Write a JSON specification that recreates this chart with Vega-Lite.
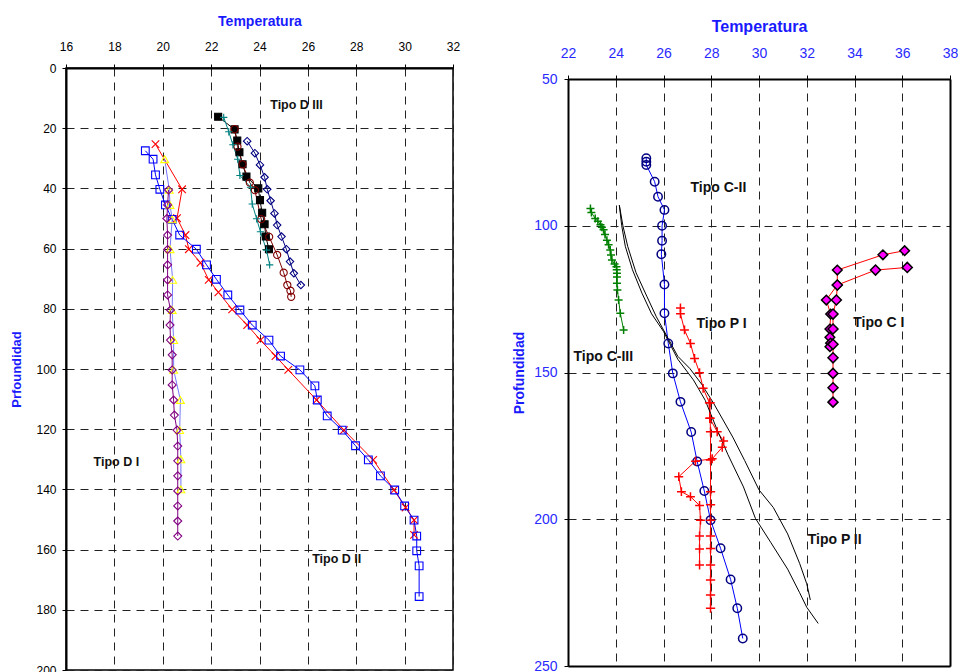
{
  "$schema": "https://vega.github.io/schema/vega-lite/v6.json",
  "background": "white",
  "padding": {"left": 10, "top": 13, "right": 0, "bottom": 0},
  "spacing": 51,
  "resolve": {"scale": {"color": "independent", "shape": "independent", "stroke": "independent", "fill": "independent", "size": "independent"}},
  "config": {
    "font": "Liberation Sans",
    "view": {"stroke": "#000", "strokeWidth": 1.5},
    "axis": {"domainColor": "#000", "domainWidth": 2, "tickColor": "#000", "tickSize": 4, "gridColor": "#222", "gridDash": [8, 6], "gridWidth": 1, "labelFont": "Liberation Sans", "titleFont": "Liberation Sans", "titleFontWeight": "bold", "labelFlush": false, "labelOverlap": false}
  },
  "hconcat": [
    {
      "width": 387,
      "height": 602,
      "data": {"values": [
        {"s":"DIII_sq","T":22.29,"D":16.2},{"s":"DIII_sq","T":22.97,"D":20.4},{"s":"DIII_sq","T":23.08,"D":24.1},{"s":"DIII_sq","T":23.17,"D":28.0},{"s":"DIII_sq","T":23.30,"D":32.0},{"s":"DIII_sq","T":23.46,"D":36.1},{"s":"DIII_sq","T":23.95,"D":40.0},{"s":"DIII_sq","T":24.02,"D":43.9},{"s":"DIII_sq","T":24.11,"D":48.1},{"s":"DIII_sq","T":24.21,"D":51.9},{"s":"DIII_sq","T":24.26,"D":56.0},{"s":"DIII_sq","T":24.39,"D":60.2},
        {"s":"DIII_circ","T":22.97,"D":20.3},{"s":"DIII_circ","T":23.09,"D":26.1},{"s":"DIII_circ","T":23.30,"D":32.0},{"s":"DIII_circ","T":23.60,"D":38.1},{"s":"DIII_circ","T":23.81,"D":40.6},{"s":"DIII_circ","T":24.07,"D":50.2},{"s":"DIII_circ","T":24.40,"D":56.1},{"s":"DIII_circ","T":24.73,"D":62.1},{"s":"DIII_circ","T":25.00,"D":68.0},{"s":"DIII_circ","T":25.15,"D":72.1},{"s":"DIII_circ","T":25.28,"D":74.0},{"s":"DIII_circ","T":25.31,"D":76.0},
        {"s":"DIII_plus","T":22.52,"D":16.4},{"s":"DIII_plus","T":22.73,"D":21.2},{"s":"DIII_plus","T":22.90,"D":25.5},{"s":"DIII_plus","T":23.10,"D":30.3},{"s":"DIII_plus","T":23.19,"D":35.7},{"s":"DIII_plus","T":23.63,"D":39.6},{"s":"DIII_plus","T":23.70,"D":45.2},{"s":"DIII_plus","T":23.88,"D":50.1},{"s":"DIII_plus","T":24.04,"D":54.4},{"s":"DIII_plus","T":24.29,"D":60.5},{"s":"DIII_plus","T":24.42,"D":65.4},
        {"s":"DIII_diam","T":23.49,"D":24.3},{"s":"DIII_diam","T":23.81,"D":28.3},{"s":"DIII_diam","T":24.02,"D":32.2},{"s":"DIII_diam","T":24.21,"D":36.3},{"s":"DIII_diam","T":24.32,"D":40.3},{"s":"DIII_diam","T":24.46,"D":44.1},{"s":"DIII_diam","T":24.62,"D":48.3},{"s":"DIII_diam","T":24.73,"D":52.2},{"s":"DIII_diam","T":24.91,"D":56.0},{"s":"DIII_diam","T":25.11,"D":60.2},{"s":"DIII_diam","T":25.26,"D":64.3},{"s":"DIII_diam","T":25.42,"D":68.2},{"s":"DIII_diam","T":25.71,"D":72.1},
        {"s":"D_x","T":19.70,"D":25.3},{"s":"D_x","T":20.80,"D":40.3},{"s":"D_x","T":20.59,"D":49.9},{"s":"D_x","T":20.94,"D":55.5},{"s":"D_x","T":21.08,"D":60.2},{"s":"D_x","T":21.56,"D":64.7},{"s":"D_x","T":21.90,"D":70.4},{"s":"D_x","T":22.30,"D":74.5},{"s":"D_x","T":22.87,"D":80.2},{"s":"D_x","T":23.49,"D":85.4},{"s":"D_x","T":24.04,"D":90.4},{"s":"D_x","T":24.66,"D":95.7},{"s":"D_x","T":25.19,"D":100.3},{"s":"D_x","T":26.36,"D":110.3},{"s":"D_x","T":27.49,"D":120.3},{"s":"D_x","T":28.70,"D":130.2},{"s":"D_x","T":29.56,"D":140.2},{"s":"D_x","T":30.04,"D":146.0},{"s":"D_x","T":30.39,"D":150.2},{"s":"D_x","T":30.39,"D":155.1},
        {"s":"D_sq","T":19.28,"D":27.5},{"s":"D_sq","T":19.60,"D":30.3},{"s":"D_sq","T":19.70,"D":35.5},{"s":"D_sq","T":19.88,"D":40.3},{"s":"D_sq","T":20.11,"D":45.5},{"s":"D_sq","T":20.39,"D":50.3},{"s":"D_sq","T":20.70,"D":55.5},{"s":"D_sq","T":21.39,"D":60.2},{"s":"D_sq","T":21.81,"D":65.4},{"s":"D_sq","T":22.22,"D":70.2},{"s":"D_sq","T":22.69,"D":75.4},{"s":"D_sq","T":23.19,"D":80.4},{"s":"D_sq","T":23.70,"D":85.4},{"s":"D_sq","T":24.39,"D":90.4},{"s":"D_sq","T":24.87,"D":95.7},{"s":"D_sq","T":25.67,"D":100.3},{"s":"D_sq","T":26.29,"D":105.6},{"s":"D_sq","T":26.39,"D":110.3},{"s":"D_sq","T":26.80,"D":115.6},{"s":"D_sq","T":27.42,"D":120.3},{"s":"D_sq","T":27.97,"D":125.5},{"s":"D_sq","T":28.50,"D":130.2},{"s":"D_sq","T":29.00,"D":135.5},{"s":"D_sq","T":29.59,"D":140.2},{"s":"D_sq","T":30.00,"D":145.5},{"s":"D_sq","T":30.39,"D":150.2},{"s":"D_sq","T":30.50,"D":155.5},{"s":"D_sq","T":30.50,"D":160.4},{"s":"D_sq","T":30.60,"D":165.4},{"s":"D_sq","T":30.60,"D":175.6},
        {"s":"D_tri","T":20.08,"D":30.3},{"s":"D_tri","T":20.27,"D":40.5},{"s":"D_tri","T":20.30,"D":45.5},{"s":"D_tri","T":20.39,"D":50.3},{"s":"D_tri","T":20.30,"D":60.2},{"s":"D_tri","T":20.41,"D":70.4},{"s":"D_tri","T":20.39,"D":80.4},{"s":"D_tri","T":20.45,"D":90.4},{"s":"D_tri","T":20.45,"D":100.3},{"s":"D_tri","T":20.73,"D":110.3},{"s":"D_tri","T":20.70,"D":120.3},{"s":"D_tri","T":20.75,"D":130.0},{"s":"D_tri","T":20.75,"D":140.0},
        {"s":"D_diam","T":20.24,"D":40.5},{"s":"D_diam","T":20.20,"D":45.5},{"s":"D_diam","T":20.17,"D":50.0},{"s":"D_diam","T":20.20,"D":55.5},{"s":"D_diam","T":20.20,"D":60.3},{"s":"D_diam","T":20.20,"D":65.4},{"s":"D_diam","T":20.20,"D":70.4},{"s":"D_diam","T":20.20,"D":75.4},{"s":"D_diam","T":20.32,"D":80.4},{"s":"D_diam","T":20.30,"D":85.4},{"s":"D_diam","T":20.32,"D":90.4},{"s":"D_diam","T":20.39,"D":95.3},{"s":"D_diam","T":20.39,"D":100.3},{"s":"D_diam","T":20.39,"D":105.3},{"s":"D_diam","T":20.45,"D":110.3},{"s":"D_diam","T":20.48,"D":115.3},{"s":"D_diam","T":20.59,"D":120.3},{"s":"D_diam","T":20.62,"D":125.6},{"s":"D_diam","T":20.62,"D":130.5},{"s":"D_diam","T":20.62,"D":135.5},{"s":"D_diam","T":20.62,"D":140.5},{"s":"D_diam","T":20.62,"D":145.5},{"s":"D_diam","T":20.62,"D":150.5},{"s":"D_diam","T":20.62,"D":155.5}
      ]},
      "layer": [
        {
          "mark": {"type": "line", "strokeWidth": 1},
          "encoding": {
            "x": {"field": "T", "type": "quantitative", "scale": {"domain": [16, 32], "nice": false, "zero": false},
              "axis": {"orient": "top", "title": "Temperatura", "titleColor": "#1a1aff", "titleFontSize": 14, "titlePadding": 12, "labelFontSize": 12, "labelColor": "#000", "labelPadding": 11, "values": [16, 18, 20, 22, 24, 26, 28, 30, 32], "grid": true}},
            "y": {"field": "D", "type": "quantitative", "scale": {"domain": [0, 200], "reverse": true, "nice": false, "zero": false},
              "axis": {"title": "Prfoundidad", "titleColor": "#1a1aff", "titleFontSize": 13, "titlePadding": 12, "labelFontSize": 12, "labelColor": "#000", "labelPadding": 6, "values": [0, 20, 40, 60, 80, 100, 120, 140, 160, 180, 200], "grid": true}},
            "color": {"field": "s", "type": "nominal", "legend": null,
              "scale": {"domain": ["DIII_sq","DIII_circ","DIII_plus","DIII_diam","D_x","D_sq","D_tri","D_diam"], "range": ["#000000","#800000","#008080","#000080","#ff0000","#0000ff","#7777ff","#800080"]}},
            "order": {"field": "D", "type": "quantitative"}
          }
        },
        {
          "mark": {"type": "point", "filled": true, "opacity": 1, "strokeWidth": 1.1},
          "encoding": {
            "x": {"field": "T", "type": "quantitative"},
            "y": {"field": "D", "type": "quantitative"},
            "shape": {"field": "s", "type": "nominal", "legend": null,
              "scale": {"domain": ["DIII_sq","DIII_circ","DIII_plus","DIII_diam","D_x","D_sq","D_tri","D_diam"], "range": ["square","circle","M-1,0L1,0M0,-1L0,1","diamond","M-1,-1L1,1M-1,1L1,-1","square","triangle-up","diamond"]}},
            "stroke": {"field": "s", "type": "nominal", "legend": null,
              "scale": {"domain": ["DIII_sq","DIII_circ","DIII_plus","DIII_diam","D_x","D_sq","D_tri","D_diam"], "range": ["#000000","#800000","#008080","#000080","#ff0000","#0000ff","#ffff00","#800080"]}},
            "fill": {"field": "s", "type": "nominal", "legend": null,
              "scale": {"domain": ["DIII_sq","DIII_circ","DIII_plus","DIII_diam","D_x","D_sq","D_tri","D_diam"], "range": ["#000000","transparent","transparent","transparent","transparent","transparent","transparent","transparent"]}},
            "size": {"field": "s", "type": "nominal", "legend": null,
              "scale": {"domain": ["DIII_sq","DIII_circ","DIII_plus","DIII_diam","D_x","D_sq","D_tri","D_diam"], "range": [49, 64, 36, 45, 49, 81, 64, 45]}}
          }
        },
        {
          "data": {"values": [
            {"label": "Tipo D III", "T": 25.53, "D": 12.3},
            {"label": "Tipo D I", "T": 18.08, "D": 131},
            {"label": "Tipo D II", "T": 27.19, "D": 163.1}
          ]},
          "mark": {"type": "text", "fontWeight": "bold", "fontSize": 12.5, "color": "#111"},
          "encoding": {
            "x": {"field": "T", "type": "quantitative"},
            "y": {"field": "D", "type": "quantitative"},
            "text": {"field": "label"}
          }
        }
      ]
    },
    {
      "width": 382,
      "height": 598,
      "view": {"stroke": null},
      "resolve": {"axis": {"x": "independent", "y": "independent"}},
      "data": {"values": [
        {"s":"C3","T":22.94,"D":94.1},{"s":"C3","T":22.98,"D":95.5},{"s":"C3","T":23.14,"D":97.5},{"s":"C3","T":23.25,"D":98.5},{"s":"C3","T":23.36,"D":99.7},{"s":"C3","T":23.42,"D":100.5},{"s":"C3","T":23.49,"D":101.4},{"s":"C3","T":23.55,"D":103.0},{"s":"C3","T":23.63,"D":104.9},{"s":"C3","T":23.70,"D":106.5},{"s":"C3","T":23.77,"D":108.3},{"s":"C3","T":23.80,"D":110.0},{"s":"C3","T":23.84,"D":111.7},{"s":"C3","T":23.95,"D":113.0},{"s":"C3","T":24.03,"D":114.0},{"s":"C3","T":24.04,"D":115.0},{"s":"C3","T":24.05,"D":116.2},{"s":"C3","T":24.05,"D":117.5},{"s":"C3","T":24.05,"D":119.6},{"s":"C3","T":24.07,"D":121.9},{"s":"C3","T":24.12,"D":125.3},{"s":"C3","T":24.19,"D":129.8},{"s":"C3","T":24.33,"D":135.5},
        {"s":"C2","T":25.28,"D":77.0},{"s":"C2","T":25.28,"D":78.2},{"s":"C2","T":25.28,"D":79.3},{"s":"C2","T":25.63,"D":85.0},{"s":"C2","T":25.77,"D":90.1},{"s":"C2","T":26.04,"D":94.6},{"s":"C2","T":25.94,"D":100.0},{"s":"C2","T":25.94,"D":105.1},{"s":"C2","T":25.91,"D":109.7},{"s":"C2","T":26.04,"D":120.0},{"s":"C2","T":26.04,"D":129.8},{"s":"C2","T":26.20,"D":140.1},{"s":"C2","T":26.39,"D":150.3},{"s":"C2","T":26.71,"D":160.0},{"s":"C2","T":27.16,"D":170.3},{"s":"C2","T":27.41,"D":180.3},{"s":"C2","T":27.71,"D":190.4},{"s":"C2","T":27.97,"D":200.3},{"s":"C2","T":28.39,"D":209.9},{"s":"C2","T":28.81,"D":220.5},{"s":"C2","T":29.09,"D":230.3},{"s":"C2","T":29.32,"D":240.6},
        {"s":"P1a","T":26.71,"D":128.0},{"s":"P1a","T":26.71,"D":130.0},{"s":"P1a","T":26.88,"D":135.5},{"s":"P1a","T":27.13,"D":140.1},{"s":"P1a","T":27.30,"D":145.2},{"s":"P1a","T":27.51,"D":150.1},{"s":"P1a","T":27.66,"D":155.4},{"s":"P1a","T":27.92,"D":160.3},{"s":"P1a","T":27.94,"D":165.6},{"s":"P1a","T":28.25,"D":170.2},{"s":"P1a","T":28.52,"D":173.3},{"s":"P1a","T":28.46,"D":175.5},{"s":"P1a","T":28.04,"D":179.4},{"s":"P1a","T":27.34,"D":180.2},{"s":"P1a","T":26.64,"D":185.5},{"s":"P1a","T":26.75,"D":190.6},{"s":"P1a","T":27.13,"D":192.3},{"s":"P1a","T":27.51,"D":195.3},{"s":"P1a","T":27.55,"D":200.3},{"s":"P1a","T":27.51,"D":205.7},{"s":"P1a","T":27.51,"D":210.1},{"s":"P1a","T":27.51,"D":215.6},
        {"s":"P1b","T":27.95,"D":160.3},{"s":"P1b","T":27.95,"D":165.6},{"s":"P1b","T":27.97,"D":170.2},{"s":"P1b","T":27.97,"D":179.8},{"s":"P1b","T":27.97,"D":190.6},{"s":"P1b","T":27.97,"D":195.1},{"s":"P1b","T":27.97,"D":200.3},{"s":"P1b","T":27.97,"D":205.7},{"s":"P1b","T":27.97,"D":210.0},{"s":"P1b","T":27.97,"D":215.6},{"s":"P1b","T":27.97,"D":220.7},{"s":"P1b","T":27.97,"D":225.8},{"s":"P1b","T":27.97,"D":230.3},
        {"s":"P2a","T":24.15,"D":93.0},{"s":"P2a","T":24.30,"D":100.0},{"s":"P2a","T":24.50,"D":107.0},{"s":"P2a","T":24.85,"D":116.0},{"s":"P2a","T":25.30,"D":124.0},{"s":"P2a","T":25.70,"D":131.0},{"s":"P2a","T":26.30,"D":140.0},{"s":"P2a","T":26.60,"D":144.5},{"s":"P2a","T":27.10,"D":148.6},{"s":"P2a","T":27.60,"D":154.0},{"s":"P2a","T":28.10,"D":160.5},{"s":"P2a","T":28.90,"D":172.0},{"s":"P2a","T":29.40,"D":180.0},{"s":"P2a","T":30.00,"D":190.0},{"s":"P2a","T":30.60,"D":196.0},{"s":"P2a","T":31.20,"D":205.0},{"s":"P2a","T":31.70,"D":215.0},{"s":"P2a","T":32.00,"D":222.0},{"s":"P2a","T":32.15,"D":227.5},
        {"s":"P2b","T":24.15,"D":93.0},{"s":"P2b","T":24.25,"D":100.0},{"s":"P2b","T":24.40,"D":107.0},{"s":"P2b","T":24.70,"D":115.0},{"s":"P2b","T":25.10,"D":123.0},{"s":"P2b","T":25.50,"D":130.0},{"s":"P2b","T":26.00,"D":136.0},{"s":"P2b","T":26.60,"D":145.5},{"s":"P2b","T":27.25,"D":152.5},{"s":"P2b","T":27.75,"D":159.5},{"s":"P2b","T":28.25,"D":169.6},{"s":"P2b","T":28.70,"D":178.0},{"s":"P2b","T":29.35,"D":189.0},{"s":"P2b","T":29.85,"D":199.7},{"s":"P2b","T":30.50,"D":208.0},{"s":"P2b","T":31.20,"D":217.0},{"s":"P2b","T":31.70,"D":225.0},{"s":"P2b","T":32.00,"D":230.0},{"s":"P2b","T":32.48,"D":235.5},
        {"s":"C1a","T":36.10,"D":108.5},{"s":"C1a","T":35.19,"D":109.9},{"s":"C1a","T":33.28,"D":115.1},{"s":"C1a","T":33.28,"D":120.2},{"s":"C1a","T":32.82,"D":125.3},{"s":"C1a","T":33.00,"D":130.1},{"s":"C1a","T":32.97,"D":135.2},{"s":"C1a","T":32.97,"D":138.0},{"s":"C1a","T":33.00,"D":140.0},{"s":"C1a","T":32.97,"D":141.2},
        {"s":"C1b","T":36.21,"D":114.2},{"s":"C1b","T":34.88,"D":115.1},{"s":"C1b","T":33.28,"D":120.2},{"s":"C1b","T":33.24,"D":125.3},{"s":"C1b","T":33.10,"D":130.1},{"s":"C1b","T":33.10,"D":135.2},{"s":"C1b","T":33.10,"D":140.4},{"s":"C1b","T":33.10,"D":145.0},{"s":"C1b","T":33.10,"D":150.3},{"s":"C1b","T":33.10,"D":155.2},{"s":"C1b","T":33.10,"D":160.1}
      ]},
      "layer": [
        {
          "mark": {"type": "line", "strokeWidth": 1},
          "encoding": {
            "x": {"field": "T", "type": "quantitative", "scale": {"domain": [22, 38], "nice": false, "zero": false},
              "axis": {"orient": "top", "offset": -11, "title": "Temperatura", "titleColor": "#1a1aff", "titleFontSize": 16, "titlePadding": 12, "labelFontSize": 14, "labelColor": "#2a2aff", "labelPadding": 15, "values": [22, 24, 26, 28, 30, 32, 34, 36, 38], "grid": true}},
            "y": {"field": "D", "type": "quantitative", "scale": {"domain": [50, 250], "range": [11, 598], "nice": false, "zero": false},
              "axis": {"title": "Profundidad", "titleColor": "#1a1aff", "titleFontSize": 14, "titlePadding": 7, "labelFontSize": 14, "labelColor": "#2a2aff", "labelPadding": 7, "values": [50, 100, 150, 200, 250], "grid": true}},
            "color": {"field": "s", "type": "nominal", "legend": null,
              "scale": {"domain": ["C3","C2","P1a","P1b","P2a","P2b","C1a","C1b"], "range": ["#008000","#0000ff","#ff0000","#ff0000","#000000","#000000","#ff0000","#ff0000"]}},
            "order": {"field": "D", "type": "quantitative"}
          }
        },
        {
          "transform": [{"filter": "datum.s != 'P2a' && datum.s != 'P2b'"}],
          "mark": {"type": "point", "filled": true, "opacity": 1, "strokeWidth": 1.5},
          "encoding": {
            "x": {"field": "T", "type": "quantitative", "axis": {"orient": "bottom", "labels": false, "ticks": false, "title": null, "grid": false, "domain": true}},
            "y": {"field": "D", "type": "quantitative", "axis": {"orient": "right", "labels": false, "ticks": false, "title": null, "grid": false, "domain": true}},
            "shape": {"field": "s", "type": "nominal", "legend": null,
              "scale": {"domain": ["C3","C2","P1a","P1b","C1a","C1b"], "range": ["M-1,0L1,0M0,-1L0,1","circle","M-1,0L1,0M0,-1L0,1","M-1,0L1,0M0,-1L0,1","diamond","diamond"]}},
            "stroke": {"field": "s", "type": "nominal", "legend": null,
              "scale": {"domain": ["C3","C2","P1a","P1b","C1a","C1b"], "range": ["#008000","#000080","#ff0000","#ff0000","#000000","#000000"]}},
            "fill": {"field": "s", "type": "nominal", "legend": null,
              "scale": {"domain": ["C3","C2","P1a","P1b","C1a","C1b"], "range": ["transparent","transparent","transparent","transparent","#ff00ff","#ff00ff"]}},
            "size": {"field": "s", "type": "nominal", "legend": null,
              "scale": {"domain": ["C3","C2","P1a","P1b","C1a","C1b"], "range": [64, 100, 81, 81, 70, 70]}}
          }
        },
        {
          "data": {"values": [
            {"label": "Tipo C-II", "T": 28.30, "D": 87.1},
            {"label": "Tipo P I", "T": 28.43, "D": 133.6},
            {"label": "Tipo C I", "T": 35.02, "D": 133.2},
            {"label": "Tipo C-III", "T": 23.48, "D": 144.7},
            {"label": "Tipo P II", "T": 33.17, "D": 207.1}
          ]},
          "mark": {"type": "text", "fontWeight": "bold", "fontSize": 14, "color": "#111"},
          "encoding": {
            "x": {"field": "T", "type": "quantitative", "axis": null},
            "y": {"field": "D", "type": "quantitative", "axis": null},
            "text": {"field": "label"}
          }
        }
      ]
    }
  ]
}
